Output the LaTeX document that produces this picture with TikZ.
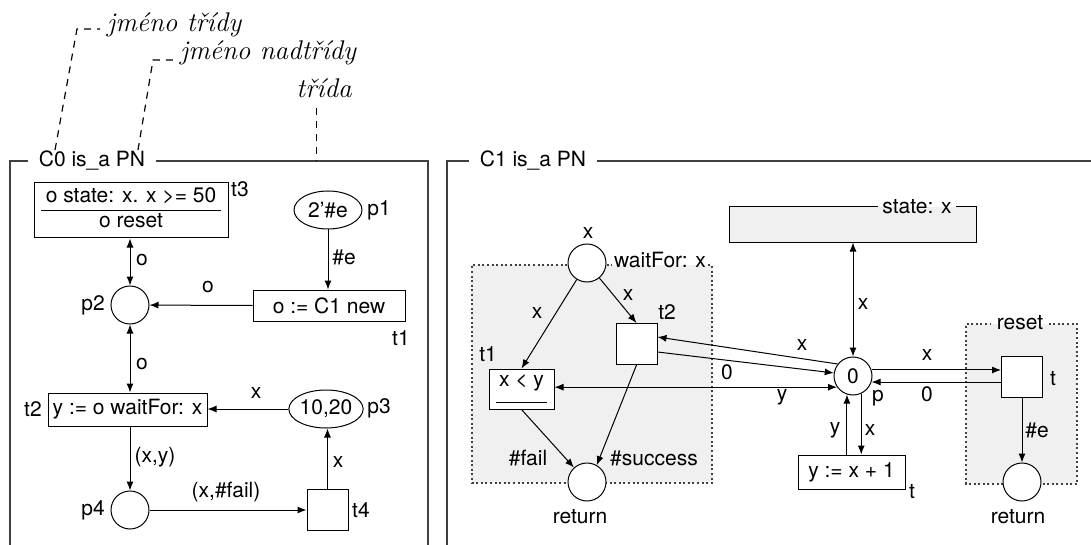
\documentclass[tikz,border=0pt]{standalone}
\usepackage{fontspec}
\setsansfont{TeX Gyre Heros}
\usetikzlibrary{arrows.meta,shapes.geometric}

\tikzset{
  place/.style={circle,draw,fill=white,minimum size=19pt,inner sep=0pt},
  tokens/.style={ellipse,draw,fill=white,minimum height=19pt,inner sep=0pt},
  trans/.style={rectangle,draw,fill=white,inner sep=1pt},
  gbox/.style={rectangle,fill=black!6,inner sep=0pt},
  arc/.style={-{Latex[length=4.5pt,width=3.5pt]}},
  biarc/.style={{Latex[length=4.5pt,width=3.5pt]}-{Latex[length=4.5pt,width=3.5pt]}},
  frame/.style={draw=black!75,line width=0.7pt},
  dotbox/.style={draw=black!75,line width=0.7pt,dash pattern=on 1pt off 1.3pt},
  leader/.style={dash pattern=on 3.5pt off 3pt,line width=0.6pt},
  note/.style={font=\rmfamily\itshape\fontsize{13.5}{15}\selectfont},
}

\begin{document}
\begin{tikzpicture}[x=0.5pt,y=-0.5pt,line width=0.5pt,font=\sffamily\fontsize{10.5}{12}\selectfont]
  \useasboundingbox (0,0) rectangle (1091,545);

  % the two class frames
  \draw[frame] (10,545) -- (10,161) -- (428,161) -- (428,545);
  \draw[frame] (447,545) -- (447,161) -- (1091,161);
  \node[fill=white,inner xsep=5.5pt] (c0) at (92,161) {C0 is\_a PN};
  \node[fill=white,inner xsep=5.5pt] (c1) at (533,161) {C1 is\_a PN};

  % notes above
  \node[note,anchor=west] (jt) at (100,25) {jméno třídy};
  \node[note,anchor=west] (jn) at (173,53) {jméno nadtřídy};
  \node[note] (tr) at (324,88) {třída};
  \coordinate (jtfoot) at (55,150);  \coordinate (jtbend) at (77,29);
  \coordinate (jnfoot) at (138,150); \coordinate (jnbend) at (153,60);
  \coordinate (trtop) at (316.5,108);  \coordinate (trfoot) at (316.5,161);
  \draw[leader] (jtfoot) -- (jtbend) -- (jtbend -| jt.west);
  \draw[leader] (jnfoot) -- (jnbend) -- (jnbend -| jn.west);
  \draw[leader] (trtop) -- (trfoot);

  % C0
  \node[trans,minimum width=97pt,minimum height=27.5pt] (t3) at (131,210.5)
    {\begin{tabular}{@{\hspace{2.25pt}}c@{\hspace{2.25pt}}}o state: x. x >= 50\\ \hline o reset\end{tabular}};
  \node[tokens,minimum width=34pt] (p1) at (328,210) {2'\#e};
  \node[trans,minimum width=76pt,minimum height=15.5pt] (t1) at (329,305.5) {o := C1 new};
  \node[place] (p2) at (130,305) {};
  \node[trans,minimum width=79.5pt,minimum height=16.5pt] (t2) at (127.5,409.5) {y := o waitFor: x};
  \node[tokens,minimum width=36.5pt] (p3) at (326,409) {10,20};
  \node[place] (p4) at (130,510) {};
  \node[trans,minimum size=20.5pt] (t4) at (327.5,509.5) {};

  \draw[biarc] (p2) -- (p2 |- t3.south);
  \draw[arc] (p1) -- (p1 |- t1.north);
  \draw[arc] (t1.west) -- (p2);
  \draw[biarc] (p2) -- (p2 |- t2.north);
  \draw[arc] (p3.west) -- (p3.west -| t2.east);
  \draw[arc] (p2 |- t2.south) -- (p4);
  \draw[arc] (p4) -- (p4 -| t4.west);
  \draw[arc] (t4.north) -- (t4.north |- p3.south);

  \foreach \n/\x/\y/\t in {lt3/240/189/t3, lp1/379/210/p1, le/344/257/{\#e}, lo1/208/287/o,
      lt1/401/338/t1, lp2/93/305/p2, lo2/142/260/o, lo3/142/364/o, lt2/33/409/t2,
      lx1/256/393/x, lp3/379/408/p3, lxy/155/457/{(x,y)}, lx2/338/462/x,
      lxf/226/492/{(x,\#fail)}, lp4/93/510/p4, lt4/361/510/t4}{
    \node (\n) at (\x,\y) {\t};
  }

  % C1
  \coordinate (r1nw) at (472,265); \coordinate (r1se) at (712,483);
  \coordinate (r2nw) at (966,324); \coordinate (r2se) at (1077,484);
  \fill[black!6] (r1nw) rectangle (r1se);
  \fill[black!6] (r2nw) rectangle (r2se);
  \node[inner sep=1pt] (wflab) at (660,260) {waitFor: x};
  \node[inner xsep=2.5pt,inner ysep=1pt] (rslab) at (1020,323) {reset};
  \draw[dotbox] (wflab.east |- r1nw) -| (r1se) -| (r1nw) -- (wflab.west |- r1nw);
  \draw[dotbox] (rslab.east |- r2nw) -| (r2se) -| (r2nw) -- (rslab.west |- r2nw);

  \node[gbox,minimum width=123pt,minimum height=17.5pt] (state) at (853,224.5) {};
  \node[inner sep=2pt] (stlab) at ([xshift=32pt]state.north) {state: x};
  \draw[line width=0.7pt] (stlab.west) -| (state.south west) -| (state.north east) -- (stlab.east);

  \node[place] (wf) at (587,263) {};
  \node[trans,minimum size=20.5pt] (t2r) at (636.5,344) {};
  \node[trans,minimum width=32.5pt,minimum height=20pt,inner sep=0pt,align=center] (t1r) at (521.5,389)
    {x < y\\[-6.75pt]\rule[-3pt]{25.5pt}{0.5pt}};
  \node[place] (ret1) at (587,482) {};
  \node[place] (p) at (853,376) {0};
  \node[trans,minimum width=53.5pt,minimum height=17pt] (ti) at (851.5,472) {y := x + 1};
  \node[trans,minimum size=20.5pt] (tt) at (1022,376.5) {};
  \node[place] (ret2) at (1022,482) {};

  \draw[biarc] (p) -- (p |- state.south);
  \draw[arc] (wf) -- (t1r.north);
  \draw[arc] (wf) -- (t2r.north);
  \draw[arc] (t1r.south) -- (ret1);
  \draw[arc] (t2r.south) -- (ret1.60);
  \draw[arc] (p.142) -- ([yshift=3.5pt]t2r.east);
  \draw[arc] ([yshift=-4pt]t2r.east) -- (p.171);
  \draw[biarc] (p.215) -- (p.215 -| t1r.east);
  \draw[arc] (p.18) -- (p.18 -| tt.west);
  \draw[arc] (p.-18 -| tt.west) -- (p.-18);
  \draw[arc] (tt) -- (ret2);
  \draw[arc] (p.252 |- ti.north) -- (p.252);
  \draw[arc] (p.295) -- (p.295 |- ti.north);

  \foreach \n/\x/\y/\t in {lwx/588/233/x, lx3/537/313/x, lx4/628/295/x, lt2r/667/312/t2,
      lt1r/488/354/t1, lfail/528/458/{\#fail}, lsucc/654/458/{\#success}, lret1/580/517/return,
      lx5/863/304/x, lx6/802/345/x, l0a/727/372/0, ly1/782/397/y, lp/878/398/p,
      lx7/927/355/x, l0b/927/394/0, ltt/1053/379/t, le2/1037/430/{\#e}, lret2/1018/517/return,
      ly2/835/430/y, lx8/870/430/x, lti/912/492/t}{
    \node (\n) at (\x,\y) {\t};
  }
\end{tikzpicture}
\end{document}
